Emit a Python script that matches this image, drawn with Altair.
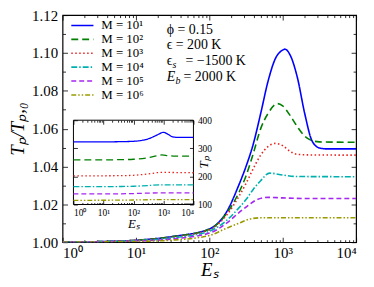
import altair as alt
import pandas as pd

# ---------------- data ----------------
M_LABELS = ["M = 10¹", "M = 10²", "M = 10³", "M = 10⁴", "M = 10⁵", "M = 10⁶"]
COLORS = ["#0000ff", "#007f00", "#e8231e", "#00b0b0", "#a526f0", "#9a9a00"]
DASHES = [[1, 0], [7, 4], [1.5, 2.5], [6, 2, 1.5, 2], [5, 3], [5, 2, 1.5, 2, 1.5, 2]]

# main panel: log10(E_s) and T_p/T_p0
main_logE = [
    [0, 0.5, 1.0, 1.5, 2.0, 2.25, 2.4, 2.5, 2.6, 2.7, 2.8, 2.9, 3.0, 3.03, 3.1, 3.2, 3.3, 3.4, 3.5, 3.6, 4.0],
    [0, 0.5, 1.0, 1.5, 2.0, 2.25, 2.4, 2.5, 2.6, 2.7, 2.8, 2.93, 3.0, 3.1, 3.2, 3.3, 3.4, 3.5, 4.0],
    [0, 1.0, 1.5, 2.0, 2.25, 2.4, 2.5, 2.6, 2.7, 2.8, 2.9, 3.0, 3.1, 3.2, 3.4, 4.0],
    [0, 1.0, 1.5, 2.0, 2.25, 2.4, 2.5, 2.6, 2.7, 2.82, 3.0, 3.2, 4.0],
    [0, 1.0, 1.5, 2.0, 2.25, 2.4, 2.5, 2.65, 2.8, 3.0, 3.3, 4.0],
    [0, 1.0, 1.5, 2.0, 2.2, 2.4, 2.55, 2.7, 4.0],
]
main_tp = [
    [1.000, 1.0003, 1.001, 1.003, 1.007, 1.017, 1.030, 1.040, 1.052, 1.068, 1.085, 1.097, 1.1015, 1.102, 1.099, 1.087, 1.068, 1.0535, 1.0498, 1.0493, 1.0493],
    [1.000, 1.0003, 1.001, 1.003, 1.0068, 1.016, 1.026, 1.035, 1.047, 1.060, 1.068, 1.0732, 1.072, 1.067, 1.061, 1.056, 1.0537, 1.0530, 1.0528],
    [1.000, 1.001, 1.0027, 1.0065, 1.015, 1.024, 1.031, 1.039, 1.046, 1.0505, 1.0522, 1.051, 1.048, 1.0464, 1.0461, 1.0460],
    [1.000, 1.0008, 1.0023, 1.0058, 1.012, 1.018, 1.0225, 1.028, 1.0325, 1.0365, 1.0355, 1.0347, 1.0346],
    [1.000, 1.0006, 1.0017, 1.0048, 1.0105, 1.0155, 1.0185, 1.0225, 1.0237, 1.0234, 1.0231, 1.0231],
    [1.000, 1.0004, 1.0011, 1.0035, 1.0068, 1.0100, 1.0122, 1.0129, 1.0129],
]

# inset: log10(E_s) and T_p
inset_logE = [
    [0, 1.0, 1.5, 2.0, 2.5, 2.8, 3.0, 3.15, 3.3, 3.45, 4.0],
    [0, 1.0, 1.5, 2.0, 2.5, 2.8, 2.95, 3.15, 3.4, 4.0],
    [0, 1.5, 2.0, 2.5, 2.9, 3.1, 4.0],
    [0, 1.5, 2.0, 2.5, 2.85, 3.2, 4.0],
    [0, 1.5, 2.0, 2.5, 2.85, 4.0],
    [0, 1.5, 2.0, 2.5, 2.7, 4.0],
]
inset_tp = [
    [323, 323, 323.5, 325, 334, 348, 357, 350, 341, 339, 339],
    [259, 259, 259.5, 261, 267, 274, 276.5, 274, 272, 272],
    [202, 202.5, 204, 209, 214, 214, 213],
    [163.5, 164, 165, 167.5, 170, 169.5, 169.5],
    [137.6, 138, 139, 140.5, 141.5, 141],
    [115, 115.3, 116, 117, 117.5, 117.5],
]

X_MAJOR = [1, 10, 100, 1000, 10000]
X_MINOR = [m * 10 ** k for k in range(4) for m in range(2, 10)]
Y_MAJOR = [1.00, 1.02, 1.04, 1.06, 1.08, 1.10, 1.12]
Y_MINOR = [1.01, 1.03, 1.05, 1.07, 1.09, 1.11]
IY_MAJOR = [100, 200, 300, 400]


def long_frame(logs, vals):
    rows = []
    for lab, ls, vs in zip(M_LABELS, logs, vals):
        for l, v in zip(ls, vs):
            rows.append({"E": 10 ** l, "v": v, "M": lab})
    return pd.DataFrame(rows)


df_main = long_frame(main_logE, main_tp)
df_inset = long_frame(inset_logE, inset_tp)

# ---------------- geometry ----------------
W, H = 296, 229
IX0, IX1, IY0, IY1 = 11, 132, 106, 191   # inset box inside plot area

FONT = "Liberation Serif"
SUP = "'10' + ['⁰','¹','²','³','⁴'][round(log(datum.value)/LN10)]"

xs = alt.Scale(type="log", domain=[1, 10000], nice=False)
ys = alt.Scale(domain=[1.0, 1.12], nice=False, zero=False)
ixs = alt.Scale(type="log", domain=[1, 10000], nice=False, range=[IX0, IX1])
iys = alt.Scale(domain=[100, 400], nice=False, zero=False, range=[IY1, IY0])
cs = alt.Scale(domain=M_LABELS, range=COLORS)
ds = alt.Scale(domain=M_LABELS, range=DASHES)


def tick_axis(orient, offset, values, size, z=0):
    return alt.Axis(orient=orient, offset=offset, values=values, ticks=True, tickSize=size,
                    tickColor="black", tickWidth=0.8, labels=False, domain=False,
                    grid=False, title="", zindex=z)


dummy_main = pd.DataFrame({"E": [1.0], "v": [1.0]})
dummy_inset = pd.DataFrame({"E": [1.0], "v": [100.0]})


def axis_only(data, xsc, ysc, xaxis, yaxis):
    return alt.Chart(data).mark_point(opacity=0).encode(
        x=alt.X("E:Q", scale=xsc, axis=xaxis),
        y=alt.Y("v:Q", scale=ysc, axis=yaxis),
    )


# ---------------- main panel ----------------
main_lines = alt.Chart(df_main).mark_line(strokeWidth=1.6, clip=True, interpolate="monotone").encode(
    x=alt.X("E:Q", scale=xs, axis=alt.Axis(
        orient="bottom", values=X_MAJOR, labelExpr=SUP, ticks=False, domain=False, grid=False,
        labelFont=FONT, labelFontSize=15, labelColor="black", labelPadding=3,
        title="Eₛ", titleFont=FONT, titleFontSize=19, titleFontStyle="italic",
        titleFontWeight="normal", titleColor="black", titlePadding=1)),
    y=alt.Y("v:Q", scale=ys, axis=alt.Axis(
        orient="left", values=Y_MAJOR, format=".2f", ticks=False, domain=False, grid=False,
        labelFont=FONT, labelFontSize=15, labelColor="black", labelPadding=5,
        title="Tₚ/Tₚ,₀", titleFont=FONT, titleFontSize=19, titleFontStyle="italic",
        titleFontWeight="normal", titleColor="black", titlePadding=4)),
    color=alt.Color("M:N", scale=cs, sort=M_LABELS, legend=alt.Legend(
        orient="none", legendX=8, legendY=4, title=None, symbolType="stroke",
        symbolSize=500, symbolStrokeWidth=1.6, clipHeight=13, rowPadding=0,
        labelFont=FONT, labelFontSize=13, labelColor="black", labelOffset=7, padding=0)),
    strokeDash=alt.StrokeDash("M:N", scale=ds, sort=M_LABELS, legend=alt.Legend(
        orient="none", legendX=8, legendY=4, title=None, symbolType="stroke",
        symbolSize=500, symbolStrokeWidth=1.6, clipHeight=13, rowPadding=0,
        labelFont=FONT, labelFontSize=13, labelColor="black", labelOffset=7, padding=0)),
    order=alt.Order("E:Q"),
)

main_ticks_in = axis_only(dummy_main, xs, ys,
                          tick_axis("top", -H, X_MAJOR, 5), tick_axis("right", -W, Y_MAJOR, 5))
main_ticks_in_minor = axis_only(dummy_main, xs, ys,
                                tick_axis("top", -H, X_MINOR, 2.5), tick_axis("right", -W, Y_MINOR, 3))
main_ticks_out = axis_only(dummy_main, xs, ys,
                           tick_axis("bottom", -H, X_MAJOR, 5), tick_axis("left", -W, Y_MAJOR, 5))
main_ticks_out_minor = axis_only(dummy_main, xs, ys,
                                 tick_axis("bottom", -H, X_MINOR, 2.5), tick_axis("left", -W, Y_MINOR, 3))


def txt(s, x, y, size=14, style="normal"):
    return alt.Chart(dummy_main).mark_text(
        text=s, align="left", baseline="middle", font=FONT, fontSize=size,
        fontStyle=style, color="black").encode(x=alt.value(x), y=alt.value(y))


texts = [
    txt("ϕ = 0.15", 105, 15),
    txt("ϵ = 200 K", 105, 30),
    txt("ϵ", 105, 46), txt("s", 111, 50, 10, "italic"), txt("= −1500 K", 124, 46),
    txt("E", 105, 62, 14, "italic"), txt("b", 114, 66, 10, "italic"), txt("= 2000 K", 122, 62),
]

main = alt.layer(main_lines, main_ticks_in, main_ticks_in_minor, main_ticks_out,
                 main_ticks_out_minor, *texts).resolve_axis(x="independent", y="independent")

# ---------------- inset ----------------
box = pd.DataFrame({"E": [1.0], "E2": [10000.0], "v": [100.0], "v2": [400.0]})
inset_box = alt.Chart(box).mark_rect(fill="white", stroke="black", strokeWidth=1).encode(
    x=alt.X("E:Q", scale=ixs, axis=alt.Axis(
        orient="bottom", offset=IY1 - H, values=X_MAJOR, labelExpr=SUP, ticks=False,
        domain=False, grid=False, labelFont=FONT, labelFontSize=9.5, labelColor="black",
        labelPadding=3, title="Eₛ", titleFont=FONT, titleFontSize=13,
        titleFontStyle="italic", titleFontWeight="normal", titleColor="black",
        titlePadding=1, zindex=1)),
    x2="E2:Q",
    y=alt.Y("v:Q", scale=iys, axis=alt.Axis(
        orient="right", offset=IX1 - W, values=IY_MAJOR, ticks=False, domain=False,
        grid=False, labelFont=FONT, labelFontSize=9.5, labelColor="black", labelPadding=4,
        title="Tₚ", titleFont=FONT, titleFontSize=13, titleFontStyle="italic",
        titleFontWeight="normal", titleColor="black", titleAngle=270,
        titleX=10, titleY=148, titleAlign="center", titleBaseline="middle", zindex=1)),
    y2="v2:Q",
)

inset_lines = alt.Chart(df_inset).mark_line(strokeWidth=1.3, clip=False, interpolate="monotone").encode(
    x=alt.X("E:Q", scale=ixs, axis=None),
    y=alt.Y("v:Q", scale=iys, axis=None),
    color=alt.Color("M:N", scale=cs, sort=M_LABELS, legend=None),
    strokeDash=alt.StrokeDash("M:N", scale=ds, sort=M_LABELS, legend=None),
    order=alt.Order("E:Q"),
)

inset_t1 = axis_only(dummy_inset, ixs, iys,
                     tick_axis("top", -IY1, X_MAJOR, 4, 1), tick_axis("right", IX0 - W, IY_MAJOR, 4, 1))
inset_t2 = axis_only(dummy_inset, ixs, iys,
                     tick_axis("bottom", IY0 - H, X_MAJOR, 4, 1), tick_axis("left", -IX1, IY_MAJOR, 4, 1))
inset_t3 = axis_only(dummy_inset, ixs, iys,
                     tick_axis("top", -IY1, X_MINOR, 2, 1), None)
inset_t4 = axis_only(dummy_inset, ixs, iys,
                     tick_axis("bottom", IY0 - H, X_MINOR, 2, 1), None)

inset = alt.layer(inset_box, inset_lines, inset_t1, inset_t2, inset_t3, inset_t4).resolve_axis(
    x="independent", y="independent")

chart = alt.layer(main, inset).resolve_scale(
    x="independent", y="independent", color="independent", strokeDash="independent"
).properties(
    width=W, height=H,
    autosize=alt.AutoSizeParams(type="none"),
    padding={"left": 55, "top": 6, "right": 10, "bottom": 40},
    background="white",
).configure_view(stroke="black", strokeWidth=1.2)

chart.save("out.html", embed_options={"renderer": "svg", "actions": False})
